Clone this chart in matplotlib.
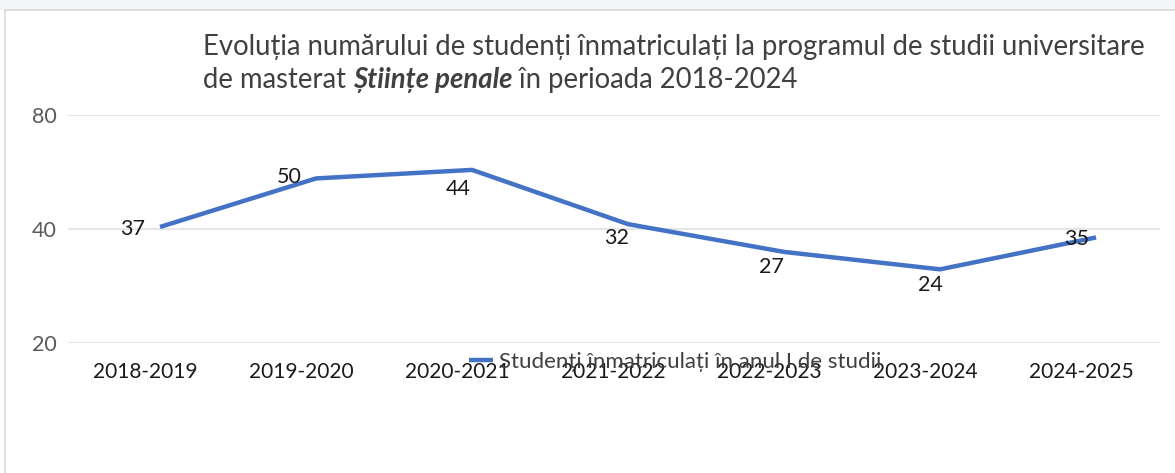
import numpy as np
import matplotlib
matplotlib.use("Agg")
import matplotlib.pyplot as plt
import matplotlib.transforms as mtransforms
from matplotlib.patches import Rectangle

plt.rcParams['font.family'] = ['Lato', 'DejaVu Sans']

# data
years = ['2018-2019', '2019-2020', '2020-2021', '2021-2022',
         '2022-2023', '2023-2024', '2024-2025']
line_vals = [40.5, 54.4, 57.3, 41.2, 34.8, 31.3, 38.0]   # where the line sits
label_vals = [37, 50, 44, 32, 27, 24, 35]                # printed labels
y_ticks = [20, 40, 80]
series_name = 'Studenți înmatriculați în anul I de studii'

blue = '#4472C4'

fig = plt.figure(figsize=(11.75, 4.73), dpi=100)
W, H = 1175, 473

# light frame like the screenshot
fig.patches.append(Rectangle((0, 1 - 10 / H), 1, 10 / H, transform=fig.transFigure,
                             facecolor='#f3f5f8', edgecolor='none', zorder=-5))
fig.patches.append(Rectangle((5 / W, -0.01), 1.0, 1 - 10 / H + 0.01, transform=fig.transFigure,
                             facecolor='white', edgecolor='#d9d9d9', lw=1.2, zorder=-5))

ax = fig.add_axes([68 / W, 130 / H, (1160 - 68) / W, (343 - 115) / H])
ax.set_facecolor('none')

x = np.arange(len(years))
ax.plot(x, line_vals, color=blue, lw=3.2, solid_capstyle='butt', label=series_name, zorder=3)

ax.set_yscale('log', base=2)
ax.set_ylim(20, 80)
ax.set_xlim(-0.59, 6.41)
ax.set_yticks(y_ticks)
ax.set_yticklabels([str(v) for v in y_ticks])
ax.yaxis.set_minor_locator(matplotlib.ticker.NullLocator())
ax.set_xticks(x)
ax.set_xticklabels(years)
ax.tick_params(axis='both', length=0)
ax.tick_params(axis='y', labelsize=15.5, labelcolor='#595959', pad=8)
ax.tick_params(axis='x', labelsize=15, labelcolor='#1a1a1a', pad=14)
# tick labels sit a bit left of the line points in the picture
shift = mtransforms.ScaledTranslation(-15 / 100, 0, fig.dpi_scale_trans)
for lab in ax.get_xticklabels():
    lab.set_transform(lab.get_transform() + shift)

ax.grid(axis='y', color='#e6e6e6', lw=1.5)
ax.grid(axis='x', visible=False)
for s in ax.spines.values():
    s.set_visible(False)

# data labels: (dx, dy) in points
offsets = [(-20, -1.5), (-19, 1), (-10, -14), (-8, -10), (-9, -11), (-7, -11), (-14, -1)]
for xi, yv, lv, (dx, dy) in zip(x, line_vals, label_vals, offsets):
    ax.annotate(str(lv), (xi, yv), xytext=(dx, dy), textcoords='offset points',
                ha='center', va='center', fontsize=15.5, color='#1a1a1a', zorder=4)

leg = ax.legend(loc='center left', bbox_to_anchor=(460 / W, (473 - 362) / H),
                bbox_transform=fig.transFigure, frameon=False, fontsize=16,
                handlelength=1.1, handletextpad=0.25, borderaxespad=0)
for t in leg.get_texts():
    t.set_color('#404040')

# title, two left-aligned lines with bold italic program name
fs = 19.8
fig.text(203 / W, 1 - 47 / H, 'Evoluția numărului de studenți înmatriculați la programul de studii universitare',
         fontsize=fs, color='#404040', va='center', ha='left')
t1 = fig.text(203 / W, 1 - 80 / H, 'de masterat ', fontsize=fs, color='#404040', va='center', ha='left')
fig.canvas.draw()
r = fig.canvas.get_renderer()
bb = t1.get_window_extent(r)
t2 = fig.text(bb.x1 / W, 1 - 80 / H, 'Științe penale', fontsize=fs, color='#404040',
              va='center', ha='left', fontweight='bold', fontstyle='italic')
bb2 = t2.get_window_extent(r)
fig.text(bb2.x1 / W, 1 - 80 / H, ' în perioada 2018-2024', fontsize=fs, color='#404040',
         va='center', ha='left')

fig.savefig('out.png', dpi=100)
